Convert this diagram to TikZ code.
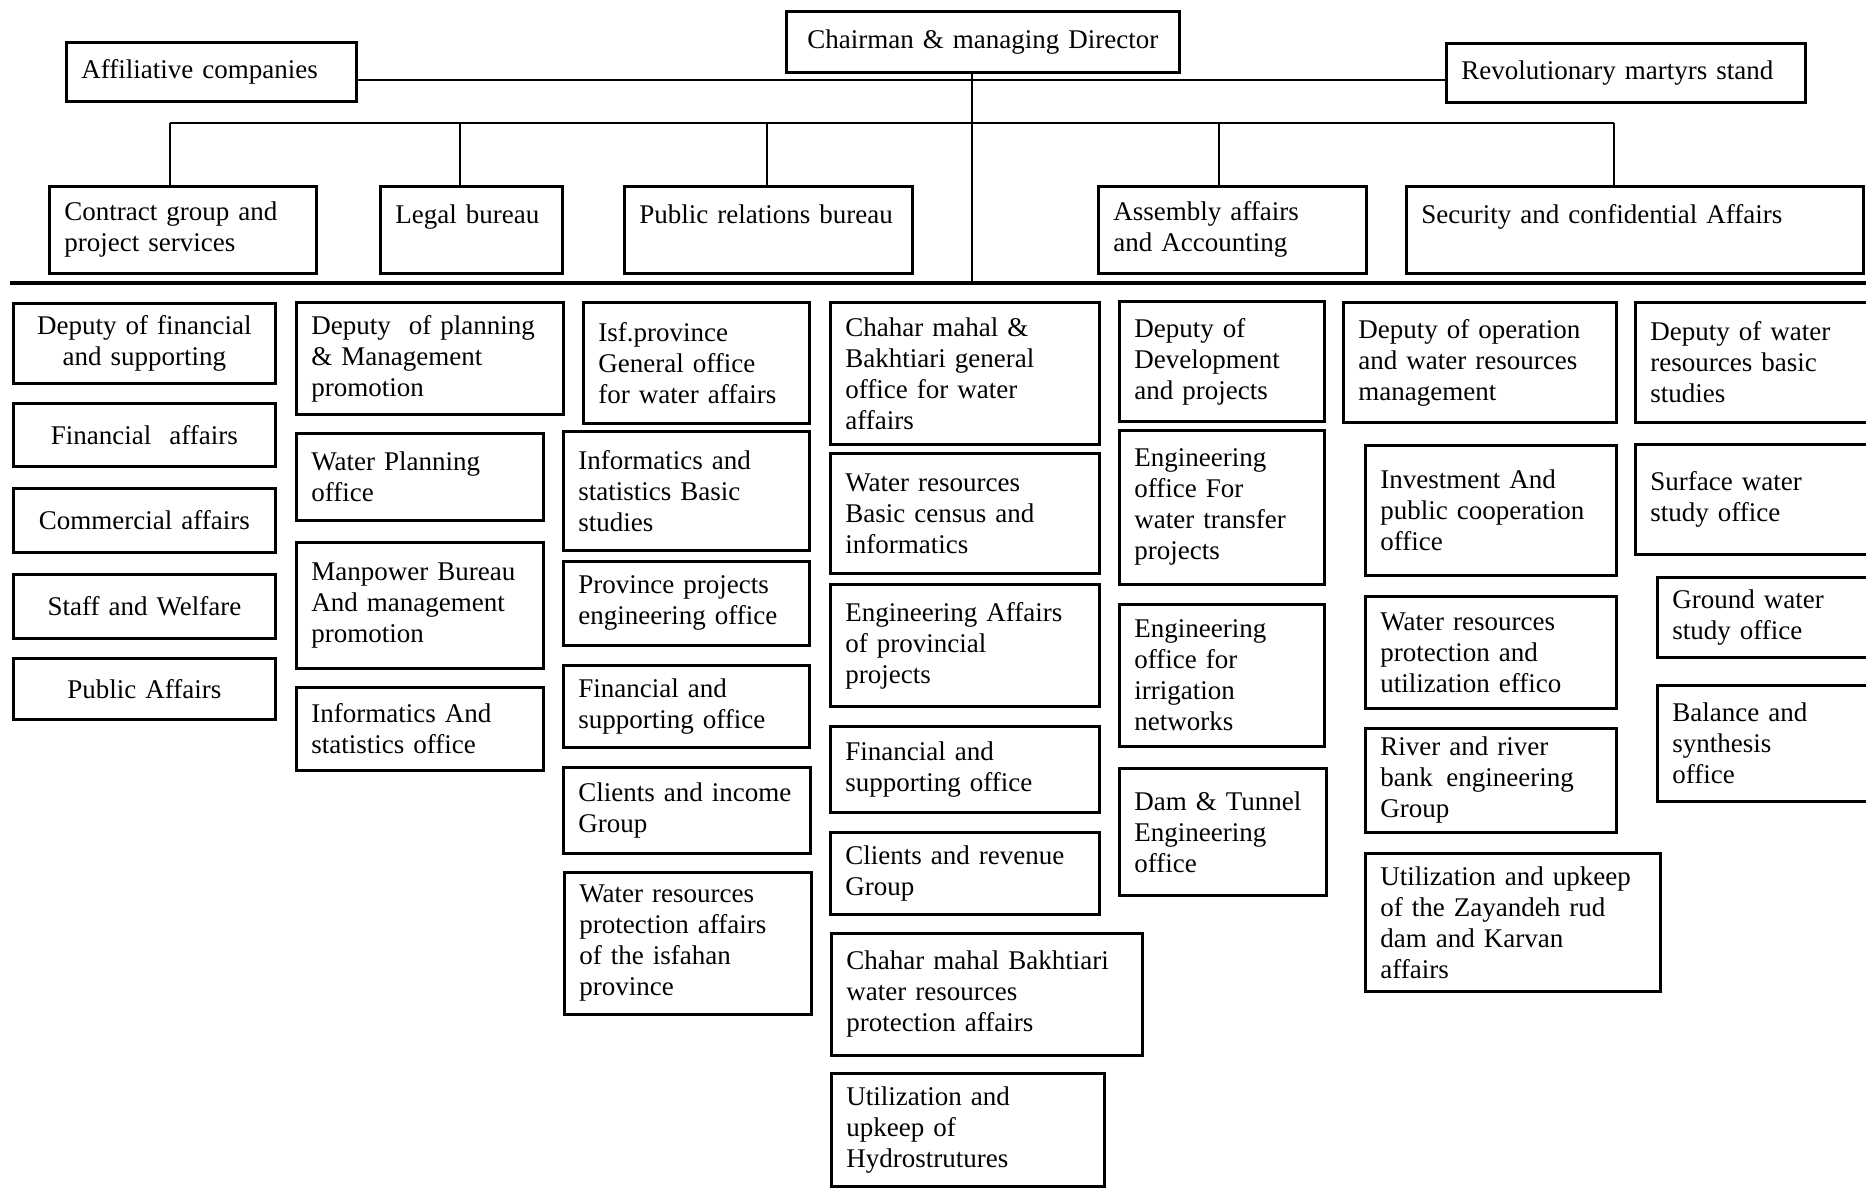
\documentclass[tikz,border=0pt]{standalone}
\usepackage{fontspec}
\setmainfont{Liberation Serif}
\begin{document}
\begin{tikzpicture}[x = 1pt,
	y = -1pt,
	unit/.style = {draw, line width = 2.8pt, anchor = north west, align = left,
		inner xsep = 15pt, inner ysep = 0pt,
		font = \fontsize{27}{31}\selectfont},
	unitc/.style = {unit, align = center},
	wh/.code 2 args = {\pgfmathsetmacro\tw{#1-30}%
		\pgfkeysalso{minimum width = #1pt, minimum height = #2pt, text width = \tw pt}},
	link/.style = {line width = 2.4pt}]
	\useasboundingbox (0,0) rectangle (1866,1187);
	\fill[white] (0,0) rectangle (1866,1187);
	\clip (0,0) rectangle (1866,1187);
	
	\node[unit, wh={393}{61}, align = center] (chair) at (785,10) {Chairman \& managing Director};
	\node[unit, wh={290}{59}] (affil) at (65,41) {Affiliative companies};
	\node[unit, wh={359}{59}] (revol) at (1445,42) {Revolutionary martyrs stand};
	
	\node[unit, wh={267}{87}] (contract) at (48,185) {Contract group and\\project services};
	\node[unit, wh={182}{87}] (legal) at (379,185) {Legal bureau\\\mbox{}};
	\node[unit, wh={288}{87}] (pubrel) at (623,185) {Public relations bureau\\\mbox{}};
	\node[unit, wh={268}{87}] (assembly) at (1097,185) {Assembly affairs\\and Accounting};
	\node[unit, wh={457}{87}] (security) at (1405,185) {Security and confidential Affairs\\\mbox{}};
	
	\node[unitc, wh={262}{80}] (depfin) at (12,302) {Deputy of financial\\and supporting};
	\node[unitc, wh={262}{63}] (finaff) at (12,402) {Financial\ \ affairs};
	\node[unitc, wh={262}{64}] (commaff) at (12,487) {Commercial affairs};
	\node[unitc, wh={262}{64}] (staff) at (12,573) {Staff and Welfare};
	\node[unitc, wh={262}{61}] (pubaff) at (12,657) {Public Affairs};
	
	\node[unit, wh={267}{112}] (depplan) at (295,301) {Deputy\ \ of planning\\\& Management\\promotion};
	\node[unit, wh={247}{87}] (waterplan) at (295,432) {Water Planning\\office};
	\node[unit, wh={247}{126}] (manpower) at (295,541) {Manpower Bureau\\And management\\promotion};
	\node[unit, wh={247}{83}] (infoff) at (295,686) {Informatics And\\statistics office};
	
	\node[unit, wh={226}{121}] (isf) at (582,301) {Isf.province\\General office\\for water affairs};
	\node[unit, wh={246}{119}] (infbasic) at (562,430) {Informatics and\\statistics Basic\\studies};
	\node[unit, wh={246}{84}] (provproj) at (562,560) {Province projects\\engineering office};
	\node[unit, wh={246}{82}] (finsupa) at (562,664) {Financial and\\supporting office};
	\node[unit, wh={247}{86}] (clinc) at (562,766) {Clients and income\\Group};
	\node[unit, wh={247}{142}] (wrisf) at (563,871) {Water resources\\protection affairs\\of the isfahan\\province};
	
	\node[unit, wh={269}{142}] (chbgen) at (829,301) {Chahar mahal \&\\Bakhtiari general\\office for water\\affairs};
	\node[unit, wh={269}{120}] (wrcensus) at (829,452) {Water resources\\Basic census and\\informatics};
	\node[unit, wh={269}{122}] (engprov) at (829,583) {Engineering Affairs\\of provincial\\projects};
	\node[unit, wh={269}{86}] (finsupb) at (829,725) {Financial and\\supporting office};
	\node[unit, wh={269}{82}] (clrev) at (829,831) {Clients and revenue\\Group};
	\node[unit, wh={311}{122}] (chbwr) at (830,932) {Chahar mahal Bakhtiari\\water resources\\protection affairs};
	\node[unit, wh={273}{113}] (hydro) at (830,1072) {Utilization and\\upkeep of\\Hydrostrutures};
	
	\node[unit, wh={205}{120}] (depdev) at (1118,300) {Deputy of\\Development\\and projects};
	\node[unit, wh={205}{154}] (engtrans) at (1118,429) {Engineering\\office For\\water transfer\\projects};
	\node[unit, wh={205}{142}] (engirr) at (1118,603) {Engineering\\office for\\irrigation\\networks};
	\node[unit, wh={207}{127}] (damtun) at (1118,767) {Dam \& Tunnel\\Engineering\\office};
	
	\node[unit, wh={273}{120}] (depop) at (1342,301) {Deputy of operation\\and water resources\\management};
	\node[unit, wh={251}{130}] (invest) at (1364,444) {Investment And\\public cooperation\\office};
	\node[unit, wh={251}{112}] (wrprot) at (1364,595) {Water resources\\protection and\\utilization effico};
	\node[unit, wh={251}{104}] (river) at (1364,727) {River and river\\bank\enspace engineering\\Group};
	\node[unit, wh={295}{138}] (zayand) at (1364,852) {Utilization and upkeep\\of the Zayandeh rud\\dam and Karvan\\affairs};
	
	\node[unit, wh={246}{120}] (depwater) at (1634,301) {Deputy of water\\resources basic\\studies};
	\node[unit, wh={246}{110}] (surface) at (1634,443) {Surface water\\study office};
	\node[unit, wh={224}{80}] (ground) at (1656,576) {Ground water\\study office};
	\node[unit, wh={224}{116}] (balance) at (1656,684) {Balance and\\synthesis\\office};
	
	\coordinate (bar) at (972,80);
	\coordinate (hub) at (972,123);
	\coordinate (rule w) at (10,283);
	\coordinate (rule e) at (1866,283);
	\coordinate (d1) at (170,123);
	\coordinate (d2) at (460,123);
	\coordinate (d3) at (767,123);
	\coordinate (d4) at (1219,123);
	\coordinate (d5) at (1614,123);
	
	\draw[link] (affil.east |- bar) -- (revol.west |- bar);
	\draw[link] (hub |- chair.south) -- (hub |- rule w);
	\draw[link] (d1) -- (d5);
	\draw[link] (d1) -- (d1 |- contract.north);
	\draw[link] (d2) -- (d2 |- legal.north);
	\draw[link] (d3) -- (d3 |- pubrel.north);
	\draw[link] (d4) -- (d4 |- assembly.north);
	\draw[link] (d5) -- (d5 |- security.north);
	\draw[line width = 3.5pt] (rule w) -- (rule e);
\end{tikzpicture}
\end{document}
